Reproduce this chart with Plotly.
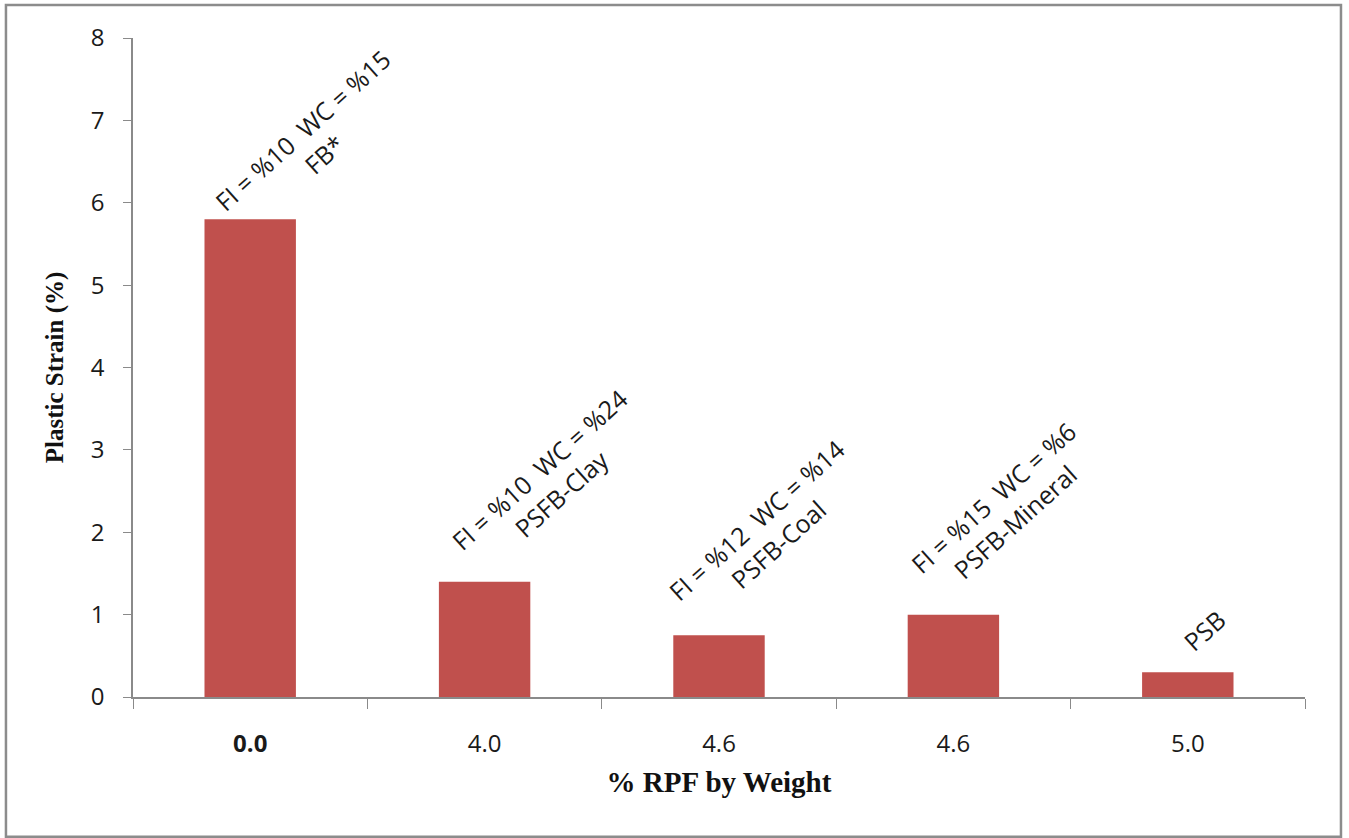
import plotly.graph_objects as go

# Plastic strain of each backfill mix against RPF content
rpf_labels = ["<b>0.0</b>", "4.0", "4.6", "4.6", "5.0"]
plastic_strain = [5.8, 1.4, 0.75, 1.0, 0.3]
mix_labels = [
    "FI = %10  WC = %15<br>FB*",
    "FI = %10  WC = %24<br>PSFB-Clay",
    "FI = %12  WC = %14<br>PSFB-Coal",
    "FI = %15  WC = %6<br>PSFB-Mineral",
    "PSB",
]

# label placement (pixel offsets of each rotated label from its bar top)
label_dx = [63, 66, 48, 51, 17]
label_dy = [77, 100, 103, 105, 42]

pos = list(range(len(rpf_labels)))

fig = go.Figure()
fig.add_trace(go.Bar(
    x=pos,
    y=plastic_strain,
    width=0.39,
    marker=dict(color="#C0504D", line=dict(width=0)),
    hoverinfo="skip",
))

for i, (txt, v) in enumerate(zip(mix_labels, plastic_strain)):
    fig.add_annotation(
        x=pos[i], y=v, xref="x", yref="y",
        text=txt, showarrow=False, textangle=-42,
        xanchor="center", yanchor="middle",
        xshift=label_dx[i], yshift=label_dy[i],
        font=dict(family="Open Sans", size=25, color="#1a1a1a"),
    )

axis_grey = "#8a8a8a"

fig.update_layout(
    width=1349, height=838,
    margin=dict(l=133, r=44, t=38, b=141),
    paper_bgcolor="white", plot_bgcolor="white",
    showlegend=False,
    xaxis=dict(
        range=[-0.5, len(pos) - 0.5],
        tickmode="array", tickvals=pos, ticktext=rpf_labels,
        ticks="", ticklen=0,
        minor=dict(tickmode="linear", tick0=-0.5, dtick=1, ticks="outside",
                   ticklen=10, tickcolor=axis_grey, tickwidth=1),
        showline=True, linecolor=axis_grey, linewidth=1.5,
        showgrid=False, zeroline=False,
        tickfont=dict(family="Open Sans", size=24, color="#1a1a1a"),
        ticklabelstandoff=24,
        title=dict(text="<b>% RPF by Weight</b>", standoff=14,
                   font=dict(family="Liberation Serif", size=29, color="#111")),
    ),
    yaxis=dict(
        range=[0, 8], dtick=1, tick0=0,
        ticks="outside", ticklen=8, tickcolor=axis_grey, tickwidth=1,
        showline=True, linecolor=axis_grey, linewidth=1.5,
        showgrid=False, zeroline=False,
        tickfont=dict(family="Open Sans", size=24, color="#1a1a1a"),
        ticklabelstandoff=14,
        title=dict(text="<b>Plastic Strain (%)</b>", standoff=20,
                   font=dict(family="Liberation Serif", size=25, color="#111")),
    ),
)

# outer frame around the whole chart
fig.add_shape(
    type="rect", xref="paper", yref="paper",
    x0=-0.1084, x1=1.0307, y0=-0.2120, y1=1.0501,
    line=dict(color="#8c8c8c", width=2.5), fillcolor="rgba(0,0,0,0)",
    layer="below",
)

fig.write_html("out.html")
